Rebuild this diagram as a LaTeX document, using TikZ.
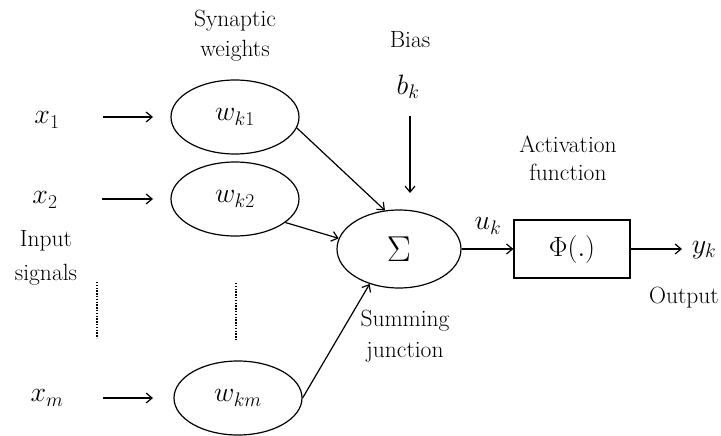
\RequirePackage{fix-cm}
\documentclass[tikz,border=0pt]{standalone}
\usepackage{fontspec}
\usetikzlibrary{shapes.geometric,arrows.meta}
\begin{document}
\begin{tikzpicture}[x=1pt,y=-1pt,
  every node/.style={font=\fontsize{23.5}{26}\selectfont, inner sep=0pt},
  mth/.style={font=\fontsize{28}{30}\selectfont},
  weight/.style={draw, ellipse, line width=1.2pt, minimum width=128pt, minimum height=74pt, mth},
  sumnode/.style={draw, ellipse, line width=1.2pt, minimum width=124pt, minimum height=78pt},
  actbox/.style={draw, rectangle, line width=1.2pt, minimum width=116pt, minimum height=58pt, mth},
  lbl/.style={align=center},
  arr/.style={line width=1.2pt, -{Straight Barb[length=6pt,width=10pt]}},
  dots/.style={line width=2pt, dash pattern=on 1.4pt off 1.4pt}
]
\useasboundingbox (0,0) rectangle (721,436);

% inputs
\node[mth] (x1) at (47,120) {$x_1$};
\node[mth] (x2) at (45,200) {$x_2$};
\node[mth] (xm) at (47,398) {$x_m$};
\node[lbl] (inlbl) at (46,258) {Input\\[8pt]signals};

% synaptic weights
\node[lbl] (synlbl) at (235,36) {Synaptic\\[4pt]weights};
\node[weight] (w1) at (235,117) {$w_{k1}$};
\node[weight] (w2) at (235,199) {$w_{k2}$};
\node[weight] (wm) at (238,398) {$w_{km}$};

% input arrows
\coordinate (a1) at (103,117); \coordinate (b1) at (153,117);
\coordinate (a2) at (102,199); \coordinate (b2) at (153,199);
\coordinate (am) at (103,398); \coordinate (bm) at (153,398);
\draw[arr] (a1) -- (b1);
\draw[arr] (a2) -- (b2);
\draw[arr] (am) -- (bm);

% elided rows
\coordinate (d1a) at (97,282); \coordinate (d1b) at (97,338);
\coordinate (d2a) at (236,283); \coordinate (d2b) at (236,340);
\draw[dots] (d1a) -- (d1b);
\draw[dots] (d2a) -- (d2b);

% summing junction
\node[sumnode] (sum) at (399,249) {\fontsize{36}{36}\selectfont$\Sigma$};
\node[lbl] (sumlbl) at (405,336) {Summing\\[5pt]junction};
\draw[arr] (w1.-10) -- (sum.110);
\draw[arr] (w2.-25) -- (sum.170);
\draw[arr] (wm.east) -- (sum.-130);

% bias
\node (biaslbl) at (410,40) {Bias};
\node[mth] (bk) at (408,87) {$b_k$};
\coordinate (bka) at (410,116);
\coordinate (bkb) at (410,193);
\draw[arr] (bka) -- (bkb);

% activation
\node[lbl] (actlbl) at (568,158) {Activation\\[2pt]function};
\node[actbox] (phi) at (572,249) {$\Phi(.)$};
\node[mth] (uk) at (488,226) {$u_k$};
\draw[arr] (sum.east) -- (phi.west);

% output
\node[mth] (yk) at (704,250) {$y_k$};
\coordinate (yo) at (682,249);
\draw[arr] (phi.east) -- (yo);
\node (outlbl) at (684,298) {Output};
\end{tikzpicture}
\end{document}
